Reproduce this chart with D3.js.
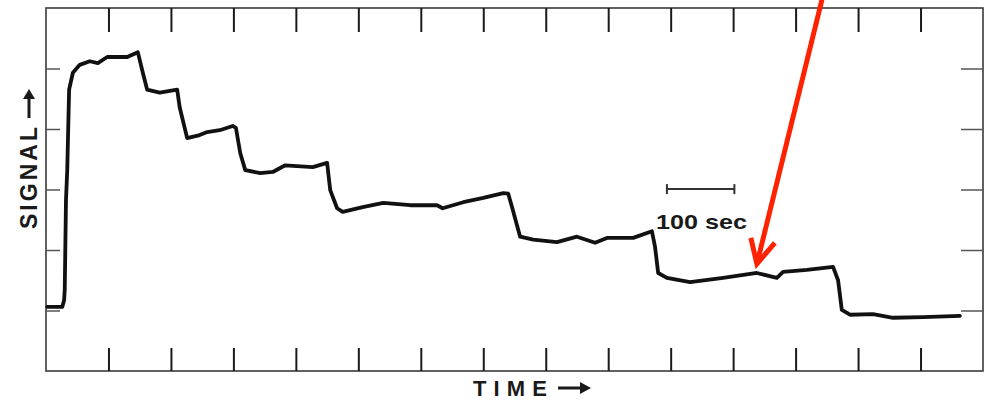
<!DOCTYPE html>
<html>
<head>
<meta charset="utf-8">
<script src="https://cdn.jsdelivr.net/npm/d3@7"></script>
<style>
  html, body { margin: 0; padding: 0; background: #fff; }
  svg { display: block; }
</style>
</head>
<body>
<svg id="chart" width="988" height="402"></svg>
<script>
// ---- data (time in seconds, signal in arbitrary units) ----
const timeSec = [2, 26, 29, 30, 32, 34, 37, 43, 54, 70, 83, 98, 130, 147, 155, 162, 182, 210, 214, 226, 246, 258, 278, 299, 304, 311, 319, 343, 363, 383, 427, 450, 455, 466, 475, 507, 540, 583, 626, 635, 668, 700, 732, 740, 746, 759, 780, 818, 850, 879, 898, 940, 970, 975, 980, 994, 1031, 1084, 1138, 1170, 1180, 1218, 1260, 1268, 1274, 1287, 1324, 1356, 1404, 1463];
const signal  = [1.06, 1.06, 1.17, 1.34, 2.83, 3.32, 4.65, 4.93, 5.06, 5.12, 5.09, 5.19, 5.19, 5.27, 4.93, 4.65, 4.60, 4.65, 4.36, 3.85, 3.90, 3.95, 3.98, 4.05, 4.02, 3.60, 3.32, 3.27, 3.29, 3.40, 3.37, 3.44, 2.99, 2.69, 2.63, 2.71, 2.78, 2.74, 2.74, 2.69, 2.79, 2.86, 2.94, 2.93, 2.71, 2.22, 2.17, 2.13, 2.22, 2.12, 2.20, 2.20, 2.31, 2.05, 1.62, 1.54, 1.47, 1.54, 1.62, 1.54, 1.64, 1.67, 1.72, 1.50, 1.01, 0.93, 0.94, 0.88, 0.89, 0.91];
const xTicks = d3.range(100, 1500, 100);   // 14 inner time ticks
const yTicks = [1, 2, 3, 4, 5];
const xLabel = "TIME";
const yLabel = "SIGNAL";
const scaleBar = { from: 994, to: 1102, level: 2.99, label: "100 sec" };
const pointer = { t: 1138, v: 1.77 };

// ---- layout ----
const svg = d3.select("#chart");
const L = 46, R = 983, T = 8, B = 371;
const x = d3.scaleLinear().domain([0, 1500]).range([L, R]);
const y = d3.scaleLinear().domain([0, 6]).range([B, T]);
const ink = "#1a1a1a";

// frame
svg.append("rect")
  .attr("x", L).attr("y", T).attr("width", R - L).attr("height", B - T)
  .attr("fill", "none").attr("stroke", "#3a3a3a").attr("stroke-width", 1.6);

// top & bottom ticks (inward)
const topAxis = d3.axisTop(x).tickValues(xTicks).tickSizeInner(-24).tickSizeOuter(0).tickFormat("");
const botAxis = d3.axisBottom(x).tickValues(xTicks).tickSizeInner(-23).tickSizeOuter(0).tickFormat("");
const gTop = svg.append("g").attr("transform", `translate(0,${T})`).call(topAxis);
const gBot = svg.append("g").attr("transform", `translate(0,${B})`).call(botAxis);
[gTop, gBot].forEach(g => {
  g.select(".domain").remove();
  g.selectAll(".tick line").attr("stroke", ink).attr("stroke-width", 2);
});

// left & right ticks (inward)
const leftAxis = d3.axisLeft(y).tickValues(yTicks).tickSizeInner(-14).tickSizeOuter(0).tickFormat("");
const rightAxis = d3.axisRight(y).tickValues(yTicks).tickSizeInner(-22).tickSizeOuter(0).tickFormat("");
const gL = svg.append("g").attr("transform", `translate(${L},0)`).call(leftAxis);
const gR = svg.append("g").attr("transform", `translate(${R},0)`).call(rightAxis);
[gL, gR].forEach(g => {
  g.select(".domain").remove();
  g.selectAll(".tick line").attr("stroke", "#555").attr("stroke-width", 1.5);
});

// signal trace
const pts = timeSec.map((t, i) => [t, signal[i]]);
const line = d3.line().x(d => x(d[0])).y(d => y(d[1])).curve(d3.curveLinear);
svg.append("path")
  .attr("d", line(pts))
  .attr("fill", "none").attr("stroke", "#111").attr("stroke-width", 3.8)
  .attr("stroke-linejoin", "round").attr("stroke-linecap", "round");

// scale bar
const sbY = y(scaleBar.level) - 1;
const sbG = svg.append("g").attr("stroke", "#333").attr("stroke-width", 2);
sbG.append("line").attr("x1", x(scaleBar.from)).attr("x2", x(scaleBar.to)).attr("y1", sbY).attr("y2", sbY);
sbG.append("line").attr("x1", x(scaleBar.from)).attr("x2", x(scaleBar.from)).attr("y1", sbY - 5).attr("y2", sbY + 5);
sbG.append("line").attr("x1", x(scaleBar.to)).attr("x2", x(scaleBar.to)).attr("y1", sbY - 5).attr("y2", sbY + 5);
svg.append("text")
  .attr("x", x(scaleBar.from) - 11).attr("y", sbY + 40)
  .attr("font-family", "Liberation Sans, Arial, sans-serif")
  .attr("font-weight", "bold")
  .attr("font-size", 21).attr("fill", "#1a1a1a")
  .attr("textLength", 91).attr("lengthAdjust", "spacingAndGlyphs")
  .text(scaleBar.label);

// x label with arrow
svg.append("text")
  .attr("x", 473).attr("y", 396)
  .attr("font-family", "Liberation Sans, Arial, sans-serif")
  .attr("font-weight", "bold").attr("font-size", 22).attr("fill", "#1a1a1a")
  .attr("textLength", 74).attr("lengthAdjust", "spacing")
  .text(xLabel);
svg.append("line").attr("x1", 558).attr("x2", 582).attr("y1", 388).attr("y2", 388)
  .attr("stroke", "#1a1a1a").attr("stroke-width", 3);
svg.append("path").attr("d", "M580,382 L591,388 L580,394 Z").attr("fill", "#1a1a1a");

// y label with arrow
svg.append("text")
  .attr("transform", "translate(37,229) rotate(-90)")
  .attr("font-family", "Liberation Sans, Arial, sans-serif")
  .attr("font-weight", "bold").attr("font-size", 23).attr("fill", "#1a1a1a")
  .attr("textLength", 102).attr("lengthAdjust", "spacing")
  .text(yLabel);
svg.append("line").attr("x1", 29).attr("x2", 29).attr("y1", 118).attr("y2", 97)
  .attr("stroke", "#1a1a1a").attr("stroke-width", 3);
svg.append("path").attr("d", "M23,99 L29,89 L35,99 Z").attr("fill", "#1a1a1a");

// red pointer annotation
const tipX = x(pointer.t), tipY = y(pointer.v);
const red = "#ff2200";
svg.append("line")
  .attr("x1", tipX + 66).attr("y1", -4).attr("x2", tipX + 1).attr("y2", tipY - 4)
  .attr("stroke", red).attr("stroke-width", 5);
svg.append("path")
  .attr("d", `M${tipX - 6},${tipY - 26} L${tipX},${tipY} L${tipX + 18},${tipY - 21}`)
  .attr("fill", "none").attr("stroke", red).attr("stroke-width", 5)
  .attr("stroke-linejoin", "miter").attr("stroke-linecap", "butt");
</script>
</body>
</html>
